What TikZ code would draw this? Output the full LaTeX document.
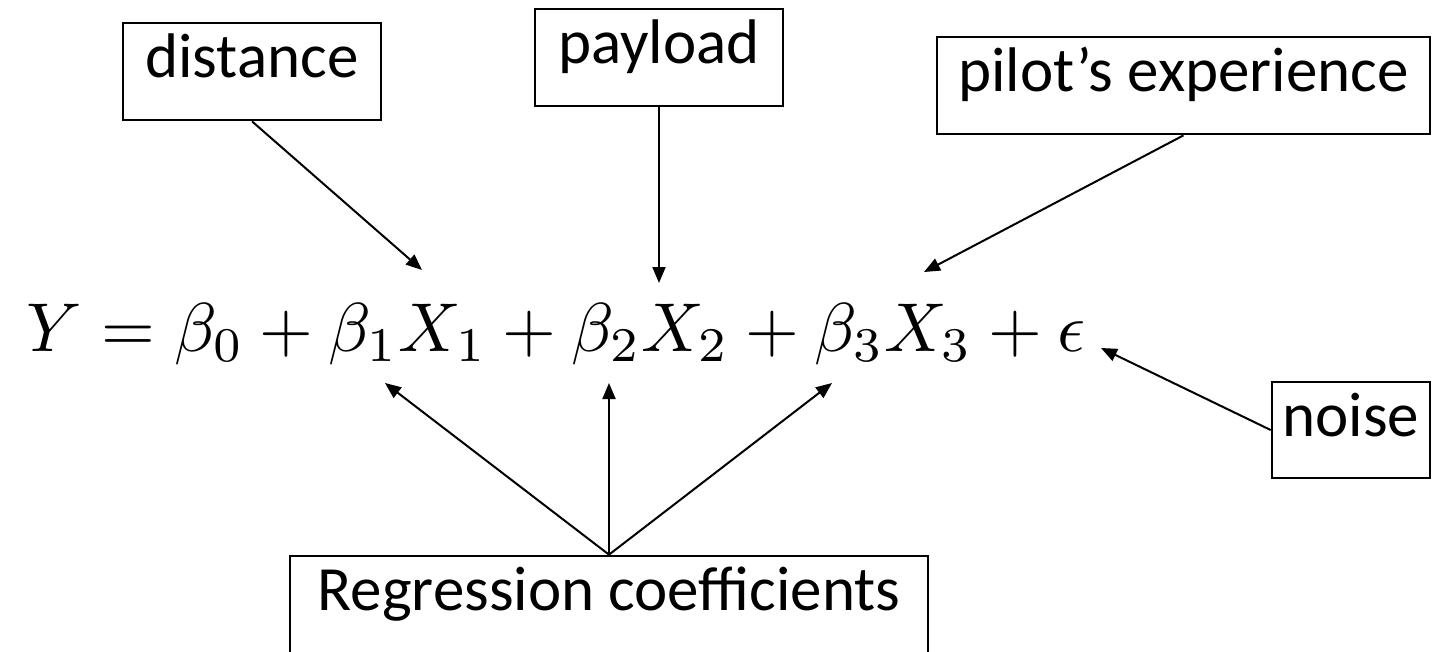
\documentclass[tikz,border=0pt]{standalone}
\usepackage{fontspec}
\setmainfont{Carlito}
\usetikzlibrary{arrows.meta}
\begin{document}
\begin{tikzpicture}[x=0.5pt,y=-0.5pt,
  lbl/.style={draw,line width=1.35pt,inner sep=0pt,
    font=\fontsize{31.5}{38}\selectfont,
    text height=0.8em,text depth=0.16em,minimum height=48.5pt},
  arr/.style={line width=1pt,-{Triangle[length=8pt,width=6.5pt]}}]
\useasboundingbox (0,0) rectangle (1433,652);
% labels
\node[lbl,minimum width=129pt] (dist) at (252,71.5) {distance};
\node[lbl,minimum width=124pt] (pay) at (659,57.5) {payload};
\node[lbl,minimum width=246.5pt] (pilot) at (1183.5,85.5) {pilot’s experience};
\node[lbl,minimum width=79pt,minimum height=48pt] (noise) at (1351,430) {noise};
\node[lbl,minimum width=319pt] (reg) at (609,604.5) {Regression coefficients};
% equation
\node[anchor=base west,inner sep=0pt] (eq) at (26,351)
  {\resizebox{529.5pt}{!}{$Y=\beta_0+\beta_1X_1+\beta_2X_2+\beta_3X_3+\epsilon$}};
% arrow targets
\coordinate (x1) at (422,270);
\coordinate (x2) at (659,283);
\coordinate (x3) at (924,272);
\coordinate (ep) at (1101,348);
\coordinate (b1) at (385,383);
\coordinate (b2) at (609,383);
\coordinate (b3) at (832,383);
% connectors
\draw[arr] (dist.south) -- (x1);
\draw[arr] (pay.south) -- (x2);
\draw[arr] (pilot.south) -- (x3);
\draw[arr] (noise.west) -- (ep);
\draw[arr] (reg.north) -- (b1);
\draw[arr] (reg.north) -- (b2);
\draw[arr] (reg.north) -- (b3);
\end{tikzpicture}
\end{document}
